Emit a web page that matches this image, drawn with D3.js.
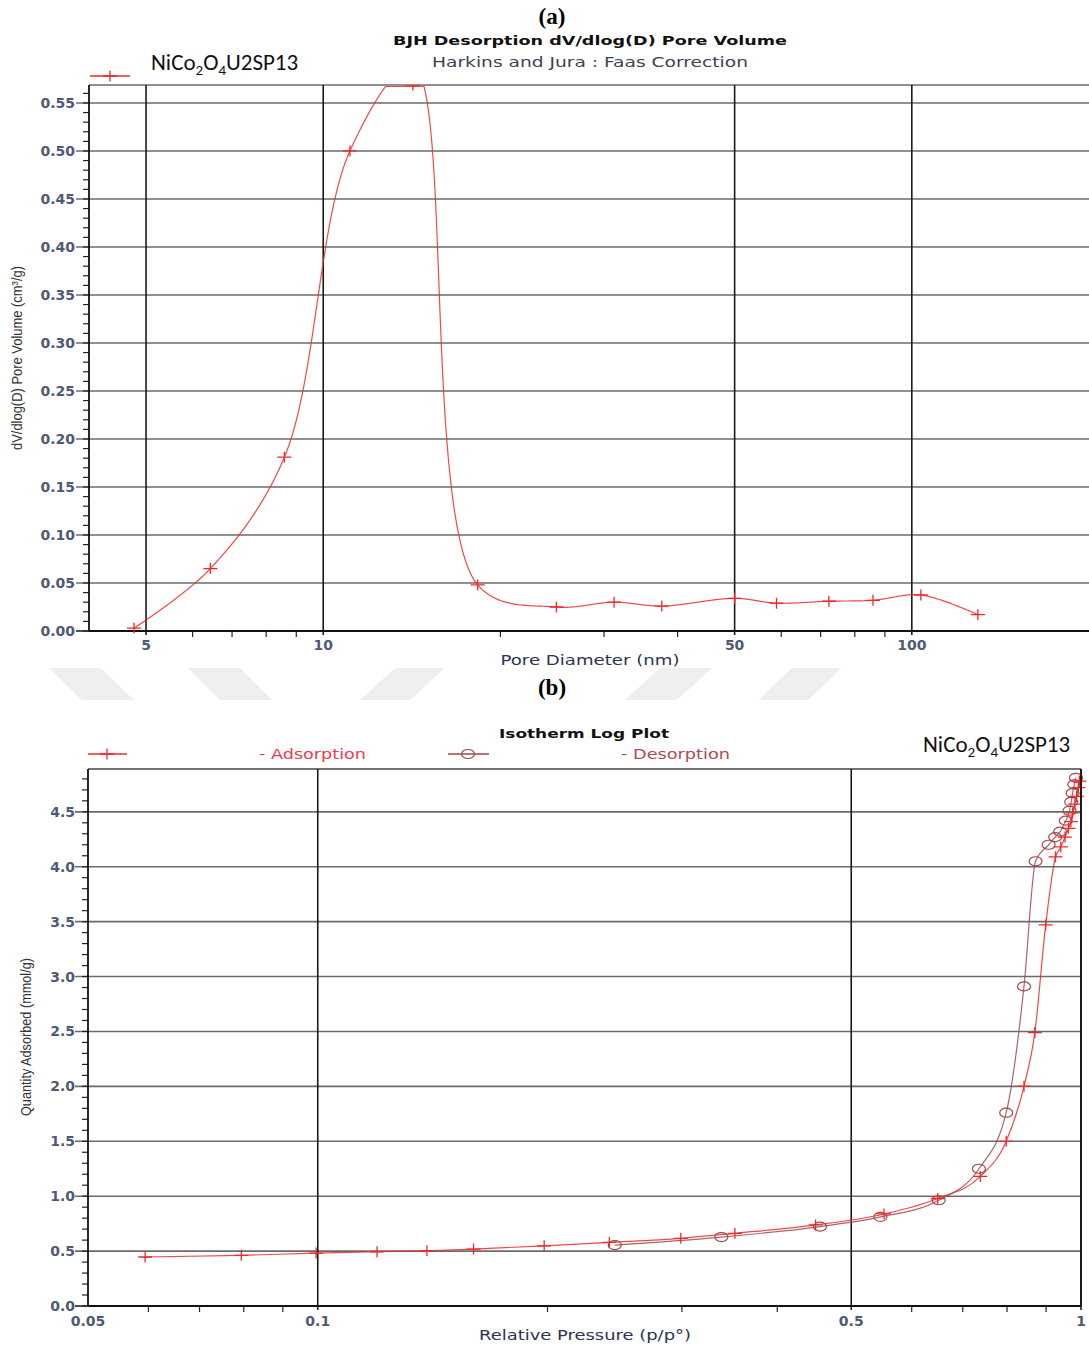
<!DOCTYPE html>
<html>
<head>
<meta charset="utf-8">
<script src="https://cdn.jsdelivr.net/npm/d3@7"></script>
<style>
  body { margin: 0; background: #fff; }
  svg { display: block; }
</style>
</head>
<body>
<svg id="chart" width="1089" height="1349"></svg>
<script>
// ---------- (a) BJH desorption dV/dlog(D) pore volume ----------
const poreDiameter = [4.77, 6.43, 8.59, 11.1, 14.2, 18.3, 24.9, 31.2, 37.6, 50.0, 58.9, 72.3, 85.9, 103.6, 129.5];
const poreVolume   = [0.003, 0.065, 0.181, 0.500, 0.588, 0.048, 0.025, 0.030, 0.026, 0.034, 0.029, 0.031, 0.032, 0.0375, 0.017];
const poreYTicks   = [0.00, 0.05, 0.10, 0.15, 0.20, 0.25, 0.30, 0.35, 0.40, 0.45, 0.50, 0.55];
const poreXTicks   = [5, 10, 50, 100];
const poreXMinor   = [6, 7, 8, 9, 20, 30, 40, 60, 70, 80, 90];

// ---------- (b) isotherm log plot ----------
const adsPressure = [0.0594, 0.0794, 0.0995, 0.1196, 0.139, 0.160, 0.198, 0.241, 0.299, 0.352, 0.449, 0.552, 0.649,
                     0.738, 0.798, 0.842, 0.870, 0.899, 0.926, 0.941, 0.953, 0.963, 0.970, 0.975, 0.982, 0.987, 0.992, 0.995];
const adsQuantity = [0.446, 0.461, 0.482, 0.494, 0.503, 0.518, 0.548, 0.579, 0.616, 0.662, 0.738, 0.838, 0.979,
                     1.18, 1.50, 2.00, 2.49, 3.47, 4.09, 4.18, 4.27, 4.35, 4.41, 4.49, 4.57, 4.64, 4.72, 4.78];
const desPressure = [0.245, 0.338, 0.455, 0.546, 0.651, 0.735, 0.798, 0.842, 0.872, 0.907, 0.925, 0.939, 0.955,
                     0.966, 0.971, 0.975, 0.980, 0.985];
const desQuantity = [0.555, 0.628, 0.723, 0.811, 0.963, 1.25, 1.76, 2.91, 4.05, 4.20, 4.27, 4.32, 4.42,
                     4.51, 4.59, 4.67, 4.75, 4.81];
const isoYTicks  = [0.0, 0.5, 1.0, 1.5, 2.0, 2.5, 3.0, 3.5, 4.0, 4.5];
const isoXTicks  = [0.05, 0.1, 0.5, 1];
const isoXMinor  = [0.06, 0.07, 0.08, 0.09, 0.2, 0.3, 0.4, 0.6, 0.7, 0.8, 0.9];

const svg = d3.select("#chart");
const TICK_FONT = "'DejaVu Sans', Verdana, sans-serif";
const TICK_COLOR = "#4e5a74";
const RED = "#f02828";
const BROWN = "#a2484a";

function text(g, x, y, s, o = {}) {
  const t = g.append("text")
    .attr("x", x).attr("y", y)
    .attr("text-anchor", o.anchor || "middle")
    .attr("font-family", o.family || TICK_FONT)
    .attr("font-size", o.size || 13)
    .attr("font-weight", o.weight || "normal")
    .attr("fill", o.fill || TICK_COLOR)
    .text(s);
  if (o.len) t.attr("textLength", o.len).attr("lengthAdjust", "spacingAndGlyphs");
  if (o.rotate) t.attr("transform", `rotate(-90,${x},${y})`);
  return t;
}

function sampleName(g, x, y) {
  const t = g.append("text").attr("x", x).attr("y", y)
    .attr("font-family", "Carlito, Lato, 'Open Sans', sans-serif")
    .attr("font-size", 23).attr("fill", "#111");
  t.append("tspan").text("NiCo");
  t.append("tspan").attr("font-size", 15).attr("dy", 5).text("2");
  t.append("tspan").attr("dy", -5).text("O");
  t.append("tspan").attr("font-size", 15).attr("dy", 5).text("4");
  t.append("tspan").attr("dy", -5).text("U2SP13");
}

function plusMarker(g, x, y, color) {
  return g.append("path").attr("d", `M${x - 7},${y}H${x + 7}M${x},${y - 5.5}V${y + 5.5}`)
    .attr("stroke", color).attr("stroke-width", 1.3).attr("fill", "none");
}
function ringMarker(g, x, y, color) {
  g.append("ellipse").attr("cx", x).attr("cy", y).attr("rx", 6.5).attr("ry", 4.5)
    .attr("stroke", color).attr("stroke-width", 1.2).attr("fill", "none");
}

// ---------- watermark band between panels ----------
const wm = svg.append("g").attr("fill", "#efefef");
[
  [[49,668],[101,668],[134,700],[82,700]],
  [[188,668],[240,668],[272,700],[220,700]],
  [[395,668],[445,668],[410,700],[360,700]],
  [[660,668],[712,668],[677,700],[625,700]],
  [[792,668],[842,668],[808,700],[758,700]]
].forEach(p => wm.append("polygon").attr("points", p.map(q => q.join(",")).join(" ")));

// ====================== Panel (a) ======================
{
  const L = 89, R = 1089, T = 85, B = 631;
  const x = d3.scaleLog().domain([4, 200]).range([L, R]);
  const y = d3.scaleLinear().domain([0, 0.5687]).range([B, T]);
  const yc = y.copy().clamp(true);   // off-scale values are pinned to the frame
  const g = svg.append("g");

  text(g, 552, 24, "(a)", { family: "'Liberation Serif', 'Times New Roman', serif", size: 23, weight: "bold", fill: "#000" });
  text(g, 590, 45, "BJH Desorption dV/dlog(D) Pore Volume", { size: 13, weight: "bold", fill: "#111", len: 394 });
  text(g, 590, 67, "Harkins and Jura : Faas Correction", { size: 14, fill: "#3a4256", len: 316 });

  // horizontal grid
  g.append("g").selectAll("line").data(poreYTicks.filter(v => v > 0)).join("line")
    .attr("x1", L - 13).attr("x2", R).attr("y1", d => y(d)).attr("y2", d => y(d))
    .attr("stroke", "#6b6b6b").attr("stroke-width", 1.6);
  g.append("line").attr("x1", L).attr("x2", R).attr("y1", T).attr("y2", T)
    .attr("stroke", "#6b6b6b").attr("stroke-width", 1.6);
  // vertical grid
  g.append("g").selectAll("line").data(poreXTicks).join("line")
    .attr("x1", d => x(d)).attr("x2", d => x(d)).attr("y1", T).attr("y2", B + 4)
    .attr("stroke", "#1a1a1a").attr("stroke-width", 1.6);

  // y axis: minor ticks every 0.01
  const yMinor = d3.range(0, 57).map(i => i / 100);
  g.append("g").selectAll("line").data(yMinor).join("line")
    .attr("x1", L - 6).attr("x2", L).attr("y1", d => y(d)).attr("y2", d => y(d))
    .attr("stroke", "#222").attr("stroke-width", 1.2);
  g.append("line").attr("x1", L - 13).attr("x2", L).attr("y1", B).attr("y2", B).attr("stroke", "#222").attr("stroke-width", 1.6);
  g.append("line").attr("x1", L).attr("x2", L).attr("y1", T).attr("y2", B).attr("stroke", "#111").attr("stroke-width", 1.8);
  g.append("line").attr("x1", L).attr("x2", R).attr("y1", B).attr("y2", B).attr("stroke", "#111").attr("stroke-width", 1.8);
  g.append("g").selectAll("text").data(poreYTicks).join("text")
    .attr("x", L - 14).attr("y", d => y(d) + 5).attr("text-anchor", "end")
    .attr("font-family", TICK_FONT).attr("font-size", 14).attr("font-weight", "bold")
    .attr("fill", TICK_COLOR).text(d => d.toFixed(2));

  // x axis ticks
  g.append("g").selectAll("line").data(poreXMinor).join("line")
    .attr("x1", d => x(d)).attr("x2", d => x(d)).attr("y1", B).attr("y2", B + 6)
    .attr("stroke", "#222").attr("stroke-width", 1.2);
  g.append("g").selectAll("text").data(poreXTicks).join("text")
    .attr("x", d => x(d)).attr("y", B + 19).attr("text-anchor", "middle")
    .attr("font-family", TICK_FONT).attr("font-size", 14).attr("font-weight", "bold")
    .attr("fill", TICK_COLOR).text(d => d);

  text(g, 590, 665, "Pore Diameter (nm)", { size: 14, fill: "#2c3450", len: 179 });
  text(g, 22, 358, "dV/dlog(D) Pore Volume (cm³/g)", {
    family: "'Liberation Sans Narrow', 'Arial Narrow', sans-serif", size: 14, fill: "#333", len: 184, rotate: true });

  // data: spline through the points, pinned to the frame where it runs off-scale
  g.append("clipPath").attr("id", "clipA").append("rect")
    .attr("x", L).attr("y", T).attr("width", R - L).attr("height", B - T + 12);
  const pts = poreDiameter.map((d, i) => [d, poreVolume[i]]);
  const spline = d3.line().x(d => x(d[0])).y(d => y(d[1])).curve(d3.curveCatmullRom.alpha(0.5));
  const probe = g.append("path").attr("d", spline(pts)).attr("visibility", "hidden");
  const node = probe.node();
  const total = node.getTotalLength();
  const traced = d3.range(0, total, 0.75).concat([total]).map(l => {
    const p = node.getPointAtLength(l);
    return [p.x, Math.min(B, Math.max(T + 1.5, p.y))];
  });
  probe.remove();
  g.append("path").attr("d", d3.line()(traced))
    .attr("fill", "none").attr("stroke", RED).attr("stroke-width", 1.2).attr("opacity", 0.85);
  const mk = g.append("g").attr("clip-path", "url(#clipA)");
  pts.forEach(d => plusMarker(mk, x(d[0]), yc(d[1]), RED));

  // legend
  g.append("line").attr("x1", 90).attr("x2", 130).attr("y1", 76).attr("y2", 76).attr("stroke", RED).attr("stroke-width", 1.3);
  plusMarker(g, 110, 76, RED);
  sampleName(g, 151, 70);
}

// ====================== Panel (b) ======================
{
  const L = 88, R = 1081, T = 769, B = 1306;
  const x = d3.scaleLog().domain([0.05, 1]).range([L, R]);
  const y = d3.scaleLinear().domain([0, 4.89]).range([B, T]);
  const g = svg.append("g");

  text(g, 552, 695, "(b)", { family: "'Liberation Serif', 'Times New Roman', serif", size: 23, weight: "bold", fill: "#000" });
  text(g, 584, 738, "Isotherm Log Plot", { size: 13, weight: "bold", fill: "#111", len: 170 });

  // legend
  g.append("line").attr("x1", 88).attr("x2", 127).attr("y1", 754).attr("y2", 754).attr("stroke", RED).attr("stroke-width", 1.3);
  plusMarker(g, 107, 754, RED);
  text(g, 259, 759, "- Adsorption", { anchor: "start", size: 14, fill: "#ee3a4a", len: 107 });
  g.append("line").attr("x1", 448).attr("x2", 489).attr("y1", 754).attr("y2", 754).attr("stroke", BROWN).attr("stroke-width", 1.3);
  ringMarker(g, 468, 754, BROWN);
  text(g, 621, 759, "- Desorption", { anchor: "start", size: 14, fill: "#b04a50", len: 109 });
  sampleName(g, 923, 752);

  // grid
  g.append("g").selectAll("line").data(isoYTicks.filter(v => v > 0)).join("line")
    .attr("x1", L - 13).attr("x2", R).attr("y1", d => y(d)).attr("y2", d => y(d))
    .attr("stroke", "#6b6b6b").attr("stroke-width", 1.6);
  g.append("line").attr("x1", L).attr("x2", R).attr("y1", T).attr("y2", T)
    .attr("stroke", "#444").attr("stroke-width", 1.6);
  g.append("g").selectAll("line").data(isoXTicks.slice(1)).join("line")
    .attr("x1", d => x(d)).attr("x2", d => x(d)).attr("y1", T).attr("y2", B + 4)
    .attr("stroke", "#1a1a1a").attr("stroke-width", 1.6);

  // y axis
  const yMinor = d3.range(0, 49).map(i => i / 10);
  g.append("g").selectAll("line").data(yMinor).join("line")
    .attr("x1", L - 6).attr("x2", L).attr("y1", d => y(d)).attr("y2", d => y(d))
    .attr("stroke", "#222").attr("stroke-width", 1.2);
  g.append("line").attr("x1", L - 13).attr("x2", L).attr("y1", B).attr("y2", B).attr("stroke", "#222").attr("stroke-width", 1.6);
  g.append("line").attr("x1", L).attr("x2", L).attr("y1", T).attr("y2", B).attr("stroke", "#111").attr("stroke-width", 1.8);
  g.append("line").attr("x1", L).attr("x2", R).attr("y1", B).attr("y2", B).attr("stroke", "#111").attr("stroke-width", 1.8);
  g.append("g").selectAll("text").data(isoYTicks).join("text")
    .attr("x", L - 13).attr("y", d => y(d) + 5).attr("text-anchor", "end")
    .attr("font-family", TICK_FONT).attr("font-size", 14).attr("font-weight", "bold")
    .attr("fill", TICK_COLOR).text(d => d.toFixed(1));

  // x axis
  g.append("g").selectAll("line").data(isoXMinor).join("line")
    .attr("x1", d => x(d)).attr("x2", d => x(d)).attr("y1", B).attr("y2", B + 6)
    .attr("stroke", "#222").attr("stroke-width", 1.2);
  g.append("g").selectAll("text").data(isoXTicks).join("text")
    .attr("x", d => x(d)).attr("y", B + 20).attr("text-anchor", "middle")
    .attr("font-family", TICK_FONT).attr("font-size", 14).attr("font-weight", "bold")
    .attr("fill", TICK_COLOR).text(d => d);

  text(g, 585, 1340, "Relative Pressure (p/p°)", { size: 14, fill: "#2c3450", len: 212 });
  text(g, 31, 1037, "Quantity Adsorbed (mmol/g)", {
    family: "'Liberation Sans Narrow', 'Arial Narrow', sans-serif", size: 14, fill: "#333", len: 158, rotate: true });

  // data
  const line = d3.line().x(d => x(d[0])).y(d => y(d[1])).curve(d3.curveMonotoneX);
  const ads = adsPressure.map((p, i) => [p, adsQuantity[i]]);
  const des = desPressure.map((p, i) => [p, desQuantity[i]]);
  g.append("path").attr("d", line(des)).attr("fill", "none").attr("stroke", BROWN).attr("stroke-width", 1.2).attr("opacity", 0.85);
  g.append("path").attr("d", line(ads)).attr("fill", "none").attr("stroke", RED).attr("stroke-width", 1.2).attr("opacity", 0.85);
  des.forEach(d => ringMarker(g, x(d[0]), y(d[1]), BROWN));
  ads.forEach(d => plusMarker(g, x(d[0]), y(d[1]), RED));

  // right border
  g.append("line").attr("x1", R).attr("x2", R).attr("y1", T).attr("y2", B)
    .attr("stroke", "#111").attr("stroke-width", 1.6);
}
</script>
</body>
</html>
